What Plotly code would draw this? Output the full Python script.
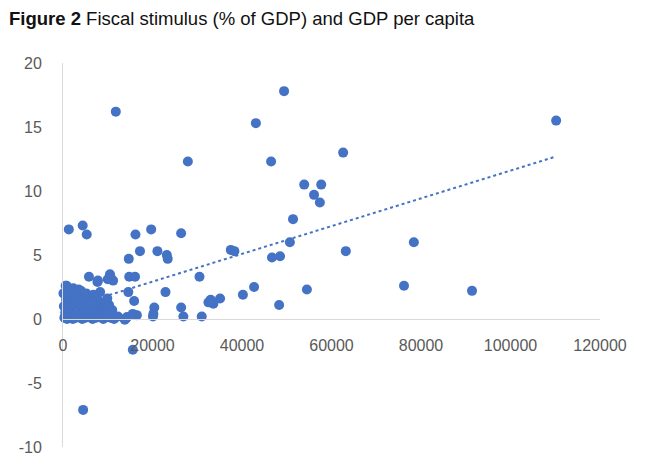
import plotly.graph_objects as go

# GDP per capita (USD) and fiscal stimulus (% of GDP)
gdp_pc = [
    11800, 27900, 49400, 43100, 46500, 62600, 110200, 53900, 57700, 56100,
    57400, 51400, 50700, 46700, 48500, 63200, 78400, 42700, 54500, 76200,
    91400, 48300, 37500, 38300, 40200, 1300, 4400, 5300, 16200, 19700,
    26400, 17200, 21100, 23200, 23400, 14700, 5800, 7700, 10500, 10700,
    14800, 16100, 30500, 14600, 8300, 22900, 15900, 20400, 20200, 14100,
    16500, 26400, 26900, 31000, 32500, 33000, 33600, 35100, 15600, 4500,
    # dense cluster near the origin
    300, 900, 1500, 2200, 2900, 3600, 4300, 5000, 5800, 6600,
    7400, 8200, 9000, 9800, 10600, 11400, 12300,
    500, 1800, 3300, 4700, 6200, 7800, 9500, 11000,
    200, 1200, 2600, 4000, 5500, 7000, 8800, 10300,
    700, 2000, 3100, 4600, 6000, 8000, 9900,
    100, 1500, 2700, 4000, 5200, 6800,
    600, 2300, 3500, 800,
    7800, 10000, 11200, 9400, 10500, 11000, 14300, 15600, 20100, 13800,
]
stimulus = [
    16.2, 12.3, 17.8, 15.3, 12.3, 13.0, 15.5, 10.5, 10.5, 9.7,
    9.1, 7.8, 6.0, 4.8, 4.9, 5.3, 6.0, 2.5, 2.3, 2.6,
    2.2, 1.1, 5.4, 5.3, 1.9, 7.0, 7.3, 6.6, 6.6, 7.0,
    6.7, 5.3, 5.3, 5.0, 4.7, 4.7, 3.3, 2.9, 3.5, 3.2,
    3.3, 3.3, 3.3, 2.1, 2.1, 2.1, 1.4, 0.9, 0.4, 0.05,
    0.3, 0.9, 0.2, 0.2, 1.3, 1.5, 1.2, 1.6, -2.4, -7.1,
    0.1, 0.0, 0.2, 0.0, 0.1, 0.3, 0.0, 0.1, 0.2, 0.0,
    0.1, 0.3, 0.0, 0.2, 0.1, 0.0, 0.2,
    0.5, 0.6, 0.4, 0.7, 0.5, 0.6, 0.4, 0.7,
    1.0, 0.9, 1.1, 1.0, 1.2, 0.9, 1.0, 1.1,
    1.5, 1.6, 1.4, 1.7, 1.5, 1.4, 1.6,
    2.0, 2.1, 1.9, 2.2, 2.0, 1.9,
    2.6, 2.4, 2.3, 2.6,
    3.0, 3.1, 3.0, 1.0, 0.6, 0.2, 0.15, 0.4, 0.2, -0.05,
]

# linear trend line end points
trend_x = [100, 110200]
trend_y = [0.76, 12.7]

x_ticks = [0, 20000, 40000, 60000, 80000, 100000, 120000]
y_ticks = [-10, -5, 0, 5, 10, 15, 20]

title_text = "<b>Figure 2</b> Fiscal stimulus (% of GDP) and GDP per capita"

BLUE = "#4472C4"

fig = go.Figure()
fig.add_trace(go.Scatter(
    x=trend_x, y=trend_y, mode="lines",
    line=dict(color=BLUE, width=2, dash="dot"),
    hoverinfo="skip", showlegend=False, cliponaxis=False,
))
fig.add_trace(go.Scatter(
    x=gdp_pc, y=stimulus, mode="markers",
    marker=dict(color=BLUE, size=10, line=dict(width=0)),
    showlegend=False, cliponaxis=False,
))

tick_font = dict(family="Liberation Sans, Arial, sans-serif", size=16, color="#595959")

PL, PT, PW, PH = 63, 63, 537, 384

fig.update_layout(
    width=650, height=464,
    margin=dict(l=PL, r=650 - PL - PW, t=PT, b=464 - PT - PH),
    paper_bgcolor="white", plot_bgcolor="white",
    xaxis=dict(
        range=[0, 120000], tickvals=x_ticks, ticktext=[str(v) for v in x_ticks],
        showgrid=False, zeroline=False, showline=True, linecolor="#D9D9D9", linewidth=1,
        anchor="free", position=1 / 3, ticks="", tickfont=tick_font,
        ticklabelstandoff=12, automargin=False,
    ),
    yaxis=dict(
        range=[-10, 20], tickvals=y_ticks, ticktext=[str(v) for v in y_ticks],
        showgrid=False, zeroline=False, showline=True, linecolor="#D9D9D9", linewidth=1,
        ticks="", tickfont=tick_font, ticklabelstandoff=17, automargin=False,
    ),
    annotations=[dict(
        text=title_text, xref="paper", yref="paper",
        x=(7 - PL) / PW, xanchor="left", y=1 + (PT - 31) / PH, yanchor="bottom",
        showarrow=False,
        font=dict(family="Liberation Sans, Arial, sans-serif", size=18.5, color="#111111"),
    )],
)

fig.write_html(
    "out.html",
    config={"displayModeBar": False},
    post_script="document.body.style.margin='0';document.body.style.overflow='hidden';",
)
